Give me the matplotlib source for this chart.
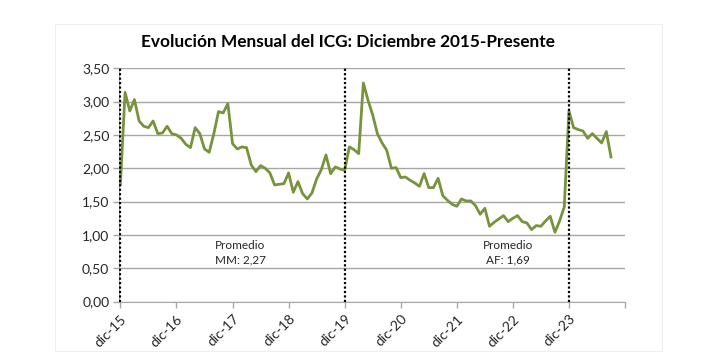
import matplotlib as mpl
mpl.use('Agg')
import matplotlib.pyplot as plt
from matplotlib.patches import Rectangle

# Monthly ICG, dic-15 onwards
icg = [1.76, 3.14, 2.86, 3.03, 2.71, 2.63, 2.61, 2.71, 2.52, 2.53,
       2.63, 2.52, 2.50, 2.45, 2.36, 2.31, 2.61, 2.52, 2.29, 2.24,
       2.52, 2.85, 2.83, 2.97, 2.37, 2.29, 2.32, 2.31, 2.05, 1.95,
       2.04, 2.00, 1.93, 1.75, 1.76, 1.77, 1.93, 1.64, 1.80, 1.62,
       1.54, 1.63, 1.84, 1.98, 2.20, 1.92, 2.02, 1.99, 1.97, 2.32,
       2.28, 2.22, 3.28, 3.02, 2.80, 2.52, 2.38, 2.27, 2.00, 2.01,
       1.86, 1.87, 1.82, 1.78, 1.73, 1.92, 1.71, 1.71, 1.85, 1.59,
       1.52, 1.46, 1.43, 1.54, 1.51, 1.51, 1.44, 1.31, 1.40, 1.13,
       1.19, 1.24, 1.29, 1.20, 1.25, 1.29, 1.20, 1.18, 1.08, 1.14,
       1.13, 1.21, 1.28, 1.04, 1.21, 1.42, 2.86, 2.61, 2.58, 2.56,
       2.45, 2.52, 2.45, 2.38, 2.55, 2.17]
tick_labels = ['dic-15', 'dic-16', 'dic-17', 'dic-18', 'dic-19',
               'dic-20', 'dic-21', 'dic-22', 'dic-23', '']
y_ticks = [0, 0.5, 1.0, 1.5, 2.0, 2.5, 3.0, 3.5]
period_breaks = [0, 48, 96]
averages = [('Promedio\nMM: 2,27', 25.6), ('Promedio\nAF: 1,69', 83)]

LINE_COLOR = '#77933c'
GRID_COLOR = '#a6a6a6'
TEXT_COLOR = '#262626'
FONT = 'Lato'

fig = plt.figure(figsize=(7.19, 3.64), dpi=100)
# faint outline of the chart area
fig.patches.append(Rectangle((55 / 719, 1 - 351 / 364), 607 / 719, 327 / 364,
                             transform=fig.transFigure, fill=False,
                             edgecolor='#efefef', linewidth=0.8))
ax = fig.add_axes([119 / 719, 1 - 301.6 / 364, 506 / 719, 233.3 / 364])

months = list(range(len(icg)))
ax.plot(months, icg, color=LINE_COLOR, linewidth=2.0, zorder=3)

for b in period_breaks:
    ax.axvline(b, color='black', linestyle=(0, (1, 1)), linewidth=1.6,
               zorder=4)

for txt, m in averages:
    ax.text(m, 0.73, txt, ha='center', va='center', fontsize=8.5,
            color=TEXT_COLOR, family=FONT, linespacing=1.35)

ax.set_xlim(-0.3, 108)
ax.set_ylim(0, 3.5)
ax.set_yticks(y_ticks)
ax.set_yticklabels([('%.2f' % v).replace('.', ',') for v in y_ticks],
                   family=FONT, fontsize=10, color=TEXT_COLOR)
ax.set_xticks(list(range(0, 109, 12)))
ax.set_xticklabels(tick_labels, rotation=45, ha='right',
                   rotation_mode='anchor', family=FONT, fontsize=10,
                   color=TEXT_COLOR)
ax.grid(axis='y', color=GRID_COLOR, linewidth=1.0)
ax.set_axisbelow(True)

for s in ['top', 'right']:
    ax.spines[s].set_visible(False)
ax.spines['left'].set_color(GRID_COLOR)
ax.spines['bottom'].set_color(GRID_COLOR)
ax.tick_params(axis='both', color=GRID_COLOR, length=4, width=1.0)
ax.tick_params(axis='y', pad=3)
ax.tick_params(axis='x', pad=4)

fig.text(348 / 719, 1 - 42 / 364,
         'Evolución Mensual del ICG: Diciembre 2015-Presente',
         ha='center', va='center', fontsize=12.4, fontweight='bold',
         family=FONT, color='black')

fig.savefig('out.png', dpi=100)
